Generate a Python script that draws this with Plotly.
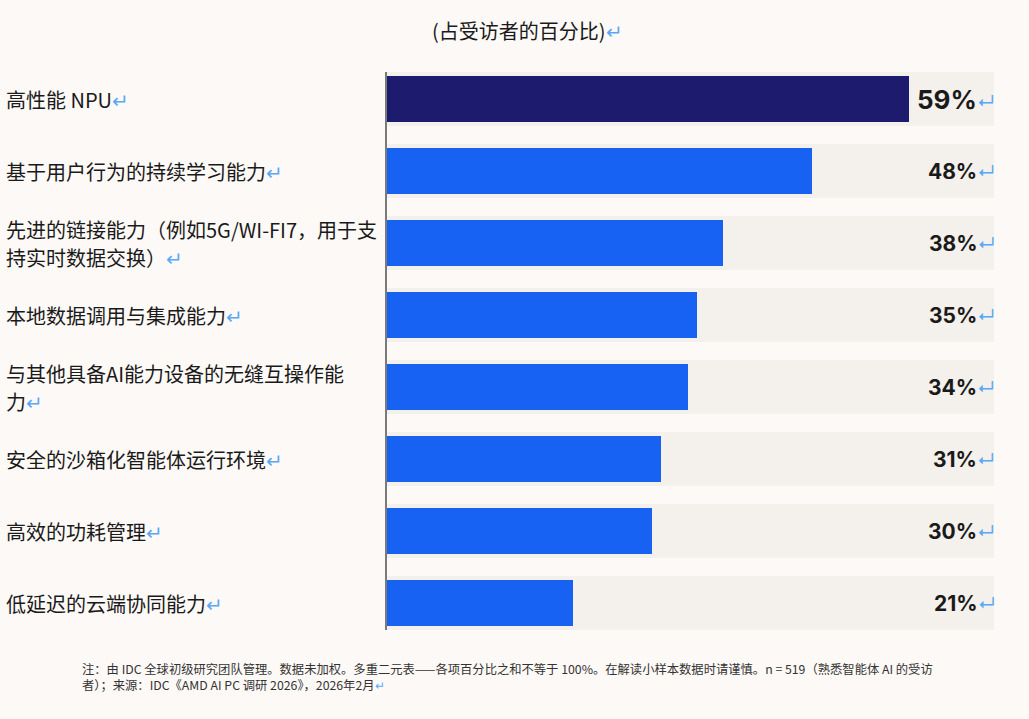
import plotly.graph_objects as go

categories = [
    "高性能 NPU",
    "基于用户行为的持续学习能力",
    "先进的链接能力（例如5G/WI-FI7，用于支<br>持实时数据交换）",
    "本地数据调用与集成能力",
    "与其他具备AI能力设备的无缝互操作能<br>力",
    "安全的沙箱化智能体运行环境",
    "高效的功耗管理",
    "低延迟的云端协同能力",
]
values = [59, 48, 38, 35, 34, 31, 30, 21]
value_labels = ["59%", "48%", "38%", "35%", "34%", "31%", "30%", "21%"]

title_text = "(占受访者的百分比)"
note_text = ("注：由 IDC 全球初级研究团队管理。数据未加权。多重二元表——各项百分比之和不等于 100%。在解读小样本数据时请谨慎。n = 519（熟悉智能体 AI 的受访"
             "<br>者）；来源：IDC《AMD AI PC 调研 2026》，2026年2月")

x_max = 68.6
mark = "<span style='color:#5aa9f6'>↵</span>"
small_mark = "<span style='color:#5aa9f6;font-size:18px'>↵</span>"
cjk = "Noto Sans CJK SC, sans-serif"
num_font = "Inter, Noto Sans, sans-serif"
bg = "#fdf9f6"
line_gap = 28

bar_colors = ["#1c1b6e"] + ["#1762f2"] * (len(values) - 1)

fig = go.Figure()
# light bands behind each bar
fig.add_trace(go.Bar(
    y=categories, x=[x_max] * len(categories), orientation="h",
    marker=dict(color="#f4f0eb", line=dict(width=0)),
    width=0.75, hoverinfo="skip", showlegend=False,
))
fig.add_trace(go.Bar(
    y=categories, x=values, orientation="h",
    marker=dict(color=bar_colors, line=dict(width=0)),
    width=0.64, showlegend=False,
))

for i, (cat, lab) in enumerate(zip(categories, value_labels)):
    lines = cat.split("<br>")
    for j, line in enumerate(lines):
        shift = ((len(lines) - 1) / 2 - j) * line_gap
        fig.add_annotation(
            x=(4 - 387) / 607, xref="paper", y=cat, yref="y", yshift=shift,
            text=line + (mark if j == len(lines) - 1 else ""),
            showarrow=False, xanchor="left", align="left",
            font=dict(family=cjk, size=20, color="#1a1a1a"),
        )
    fig.add_annotation(
        x=x_max, xref="x", y=cat, yref="y", xshift=3,
        text="<b>" + lab + "</b>" + small_mark, showarrow=False, xanchor="right",
        font=dict(family=num_font, size=26 if i == 0 else 21, color="#1a1a1a"),
    )

fig.add_annotation(
    xref="paper", yref="paper", x=(527 - 387) / 607, y=1 + (72 - 30) / 558,
    text=title_text + mark, showarrow=False, xanchor="center", yanchor="middle",
    font=dict(family=cjk, size=20, color="#1a1a1a"),
)

fig.add_annotation(
    x=(80 - 387) / 607, xref="paper", y=-(658 - 630) / 558, yref="paper",
    text=note_text + mark, showarrow=False, xanchor="left", yanchor="top", align="left",
    font=dict(family=cjk, size=12.3, color="#333333"),
)

fig.update_layout(
    width=1029, height=719,
    margin=dict(l=387, r=35, t=72, b=89),
    paper_bgcolor=bg, plot_bgcolor=bg,
    barmode="overlay", bargap=0,
    xaxis=dict(range=[0, x_max], visible=False, fixedrange=True),
    yaxis=dict(range=[7.375, -0.375], showticklabels=False, showgrid=False,
               showline=True, linecolor="#7a7a7a", linewidth=2, zeroline=False,
               fixedrange=True),
)

fig.write_html("out.html", config={"displayModeBar": False}, post_script=(
    "document.body.style.margin='0';"
    "document.body.style.background='" + bg + "';"
))
